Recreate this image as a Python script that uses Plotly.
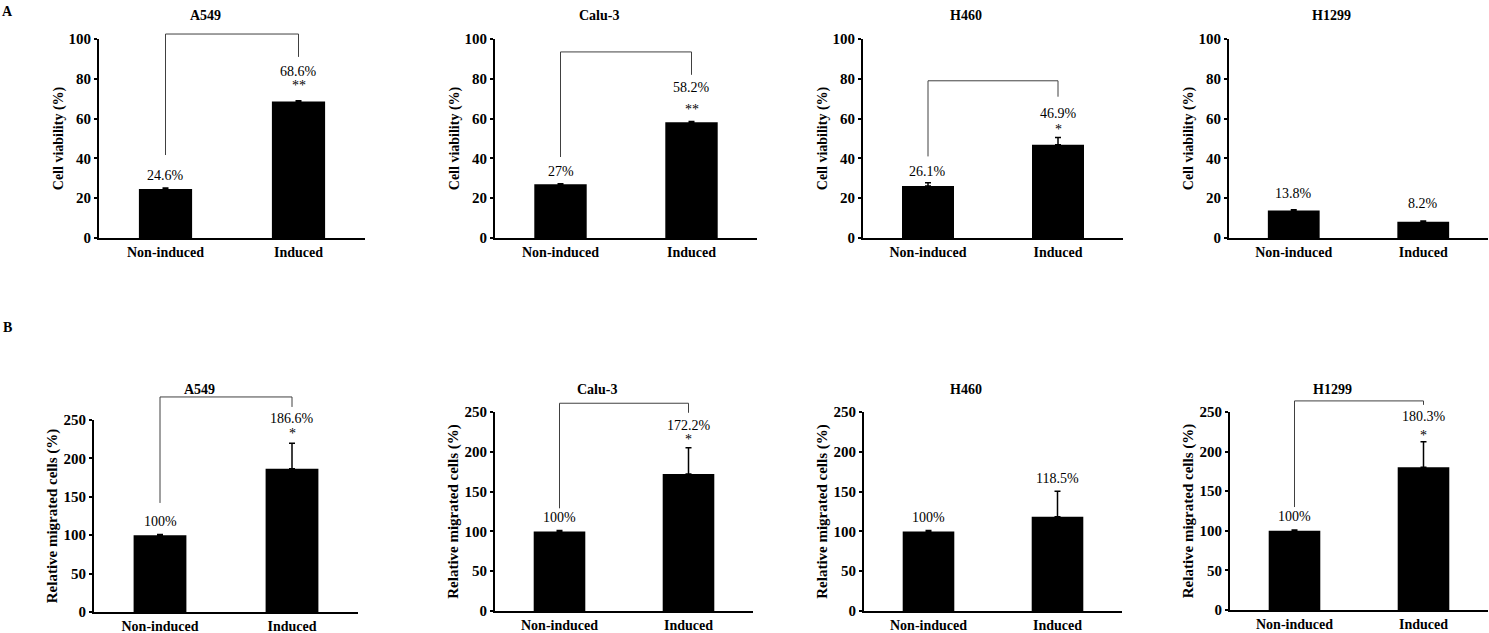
import plotly.graph_objects as go

# Data
CELL_LINES = ["A549", "Calu-3", "H460", "H1299"]
GROUPS = ["Non-induced", "Induced"]

VIABILITY = [[24.6, 68.6], [27.0, 58.2], [26.1, 46.9], [13.8, 8.2]]
VIABILITY_ERR = [[0.5, 0.4], [0.3, 0.4], [1.7, 3.6], [0.4, 0.3]]
VIABILITY_STARS = ["**", "**", "*", ""]

MIGRATION = [[100, 186.6], [100, 172.2], [100, 118.5], [100, 180.3]]
MIGRATION_ERR = [[1.0, 33.0], [1.0, 33.0], [1.0, 32.0], [1.0, 32.0]]
MIGRATION_STARS = ["*", "*", "", "*"]

# Layout (pixel positions taken from the reference page)
W, H = 1489, 633
FONT = "Liberation Serif, Times New Roman, serif"

TOP_X = [(99, 365), (495, 757), (863, 1123), (1229, 1488)]
TOP_Y = [(39, 238)] * 4
BOTTOM_X = [(94, 358), (495, 753), (864, 1122), (1230, 1488)]
BOTTOM_Y = [(420, 612), (412, 611), (412, 611), (412, 610)]

# significance bracket: (top, left leg end, right leg end) on the value scale
VIAB_BRACKET = [(102.5, 41.7, 91), (93.5, 40.7, 82), (79, 41, 71), None]
MIG_BRACKET = [(280, 142, 267), (261, 129, 249), None, (264, 130, 259)]

# how far (px) each label sits above the top of its error bar
VIAB_LABEL_SHIFT = [[13, 29.6], [11.7, 33.4], [10.7, 24.5], [16.7, 17.1]]
VIAB_STAR_SHIFT = [17.7, 15.3, 11.5, None]
MIG_LABEL_SHIFT = [[13.4, 25.3], [13.5, 21.7], [13.5, 13.1], [14, 24.9]]
MIG_STAR_SHIFT = [12.4, 10.7, None, 9.8]


def fx(p):
    return p / W


def fy(p):
    return 1 - p / H


def pct(v):
    return f"{v:g}%"


def main():
    fig = go.Figure()
    layout = {}
    annotations = []
    shapes = []

    panels = []
    for i in range(4):
        panels.append(dict(
            name=CELL_LINES[i], vals=VIABILITY[i], err=VIABILITY_ERR[i],
            stars=VIABILITY_STARS[i], bracket=VIAB_BRACKET[i],
            shift=VIAB_LABEL_SHIFT[i], star_shift=VIAB_STAR_SHIFT[i],
            xdom=TOP_X[i], ydom=TOP_Y[i], ymax=100,
            ticks=[0, 20, 40, 60, 80, 100], ytitle="Cell viability (%)",
            ytitle_size=14, title_y=15,
        ))
    for i in range(4):
        panels.append(dict(
            name=CELL_LINES[i], vals=MIGRATION[i], err=MIGRATION_ERR[i],
            stars=MIGRATION_STARS[i], bracket=MIG_BRACKET[i],
            shift=MIG_LABEL_SHIFT[i], star_shift=MIG_STAR_SHIFT[i],
            xdom=BOTTOM_X[i], ydom=BOTTOM_Y[i], ymax=250,
            ticks=[0, 50, 100, 150, 200, 250],
            ytitle="Relative migrated cells (%)", ytitle_size=15,
            title_y=389,
        ))

    for k, p in enumerate(panels, start=1):
        sfx = "" if k == 1 else str(k)
        xa, ya = "x" + sfx, "y" + sfx

        fig.add_trace(go.Bar(
            x=GROUPS, y=p["vals"], xaxis=xa, yaxis=ya,
            marker_color="black", marker_line_width=0, width=0.4,
            error_y=dict(type="data", array=p["err"], arrayminus=[0, 0],
                         symmetric=False, color="black", thickness=1.5,
                         width=3),
            showlegend=False, hoverinfo="skip",
        ))

        # bracket drawn relative to the axis domain so it may rise above it
        if p["bracket"]:
            top, left, right = p["bracket"]
            pts = [(0.25, left / p["ymax"]), (0.25, top / p["ymax"]),
                   (0.75, top / p["ymax"]), (0.75, right / p["ymax"])]
            path = "M" + " L".join(f"{a},{b}" for a, b in pts)
            shapes.append(dict(
                type="path", path=path, xref=xa + " domain",
                yref=ya + " domain", line=dict(color="#404040", width=1),
            ))

        layout["xaxis" + sfx] = dict(
            domain=[fx(p["xdom"][0]), fx(p["xdom"][1])], anchor=ya,
            type="category", range=[-0.5, 1.5], showline=True,
            linecolor="black", linewidth=2, ticks="", showgrid=False,
            zeroline=False, automargin=False,
            tickfont=dict(size=14, weight="bold"),
        )
        layout["yaxis" + sfx] = dict(
            domain=[fy(p["ydom"][1]), fy(p["ydom"][0])], anchor=xa,
            range=[0, p["ymax"]], tickvals=p["ticks"], ticks="outside",
            ticklen=3, tickwidth=2, tickcolor="black", showline=True,
            linecolor="black", linewidth=2, showgrid=False, zeroline=False,
            automargin=False, tickfont=dict(size=15, weight="bold"),
            title=dict(text=p["ytitle"],
                       font=dict(size=p["ytitle_size"], weight="bold"),
                       standoff=2),
        )

        # panel title
        centre = (p["xdom"][0] + p["xdom"][1]) / 2 - 27
        annotations.append(dict(
            x=fx(centre), y=fy(p["title_y"]), xref="paper", yref="paper",
            text=p["name"], showarrow=False, font=dict(size=14, weight="bold"),
            xanchor="center", yanchor="middle",
        ))

        # value labels, anchored on the error bar top and lifted in pixels
        for g, v, e, s in zip(GROUPS, p["vals"], p["err"], p["shift"]):
            annotations.append(dict(
                x=g, y=v + e, xref=xa, yref=ya, text=pct(v), showarrow=False,
                font=dict(size=14), xanchor="center", yanchor="middle",
                yshift=s,
            ))
        if p["stars"]:
            annotations.append(dict(
                x=GROUPS[1], y=p["vals"][1] + p["err"][1], xref=xa, yref=ya,
                text=p["stars"], showarrow=False, font=dict(size=14),
                xanchor="center", yanchor="middle",
                yshift=p["star_shift"] - 3,
            ))

    for letter, ypx in [("A", 12), ("B", 328)]:
        annotations.append(dict(
            x=fx(7), y=fy(ypx), xref="paper", yref="paper", text=letter,
            showarrow=False, font=dict(size=14, weight="bold"),
            xanchor="center", yanchor="middle",
        ))

    fig.update_layout(
        width=W, height=H, autosize=False,
        margin=dict(l=0, r=0, t=0, b=0, pad=0, autoexpand=False),
        paper_bgcolor="white", plot_bgcolor="white",
        font=dict(family=FONT, color="black", size=14),
        showlegend=False, annotations=annotations, shapes=shapes,
        **layout,
    )

    fig.write_html(
        "out.html",
        post_script="document.body.style.margin='0';",
        config={"displayModeBar": False},
    )


if __name__ == "__main__":
    main()
